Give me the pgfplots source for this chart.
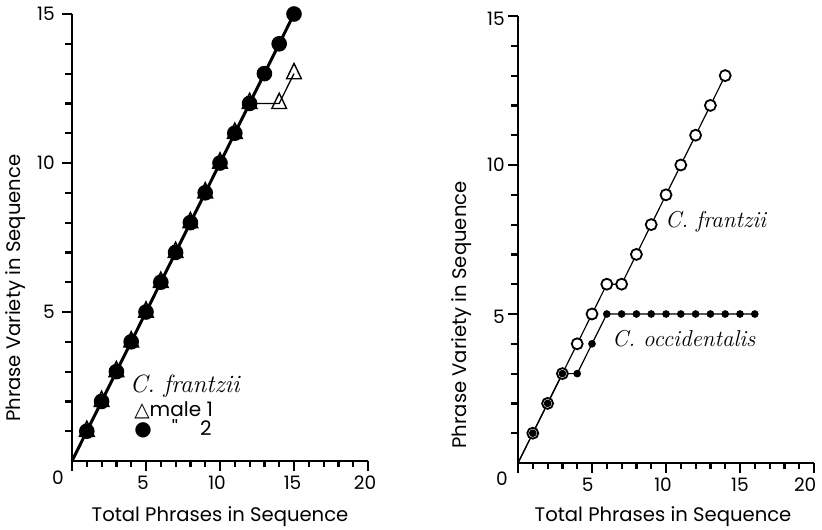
\documentclass[border=0pt]{standalone}
\usepackage{fontspec}
\usepackage{pgfplots}
\pgfplotsset{compat=1.18}
\newfontfamily\fut{Poppins}
\newfontfamily\dej{DejaVu Sans}

\pgfplotsset{
 base/.style={
  hide axis,
  scale only axis, width=312.28pt, height=467.86pt,
  xmin=-0.8, xmax=20.3, ymin=-0.5, ymax=15.2,
  clip=false,
 },
 frameline/.style={black, line width=2.8pt, line cap=butt, line join=miter, mark=none, forget plot},
 tickline/.style={black, line width=2.2pt, line cap=butt, mark=none, unbounded coords=jump, forget plot},
}
\tikzset{
 tl/.style={font=\fut\fontsize{18.5}{20}\selectfont, inner sep=0pt},
 al/.style={font=\fut\fontsize{19.6}{22}\selectfont, inner sep=0pt, anchor=center},
}

\begin{document}
\begin{tikzpicture}
\useasboundingbox (0,0) rectangle (822pt,-530pt);

% ---------- left panel ----------
\begin{axis}[base, at={(72pt,-461pt)}, anchor=origin]
\addplot[frameline] coordinates {(0,15)(0,0)(20,0)};
\addplot[tickline] coordinates {(1,0)(1,-0.2)(1,nan)(2,0)(2,-0.2)(2,nan)(3,0)(3,-0.2)(3,nan)(4,0)(4,-0.2)(4,nan)(6,0)(6,-0.2)(6,nan)(7,0)(7,-0.2)(7,nan)(8,0)(8,-0.2)(8,nan)(9,0)(9,-0.2)(9,nan)(11,0)(11,-0.2)(11,nan)(12,0)(12,-0.2)(12,nan)(13,0)(13,-0.2)(13,nan)(14,0)(14,-0.2)(14,nan)(16,0)(16,-0.2)(16,nan)(17,0)(17,-0.2)(17,nan)(18,0)(18,-0.2)(18,nan)(19,0)(19,-0.2)};
\addplot[tickline] coordinates {(0,0)(0,-0.34)(0,nan)(5,0)(5,-0.34)(5,nan)(10,0)(10,-0.34)(10,nan)(15,0)(15,-0.34)(15,nan)(20,0)(20,-0.34)};
\addplot[tickline] coordinates {(0,1)(-0.47,1)(nan,1)(0,2)(-0.47,2)(nan,2)(0,3)(-0.47,3)(nan,3)(0,4)(-0.47,4)(nan,4)(0,6)(-0.47,6)(nan,6)(0,7)(-0.47,7)(nan,7)(0,8)(-0.47,8)(nan,8)(0,9)(-0.47,9)(nan,9)(0,11)(-0.47,11)(nan,11)(0,12)(-0.47,12)(nan,12)(0,13)(-0.47,13)(nan,13)(0,14)(-0.47,14)};
\addplot[tickline] coordinates {(0,5)(-0.68,5)(nan,5)(0,10)(-0.68,10)(nan,10)(0,15)(-0.68,15)};
% data
\addplot[black, line width=1.3pt, mark=triangle, mark phase=2, mark repeat=1,
  mark size=8.5pt, mark options={fill=white, line width=1.4pt, yscale=1.2}]
  coordinates {(0,0)(1,1)(2,2)(3,3)(4,4)(5,5)(6,6)(7,7)(8,8)(9,9)(10,10)(11,11)(12,12)(14,12)(15,13)};
\addplot[black, line width=3pt, mark=*, mark phase=2, mark repeat=1,
  mark size=6.3pt]
  coordinates {(0,0)(1,1)(2,2)(3,3)(4,4)(5,5)(6,6)(7,7)(8,8)(9,9)(10,10)(11,11)(12,12)(13,13)(14,14)(15,15)};
% tick labels and axis labels
\node[tl, anchor=center] at (axis cs:-0.95,-0.57) {0};
\node[tl, anchor=center] at (axis cs:4.8,-0.74) {5};
\node[tl, anchor=center] at (axis cs:9.8,-0.74) {10};
\node[tl, anchor=center] at (axis cs:14.9,-0.74) {15};
\node[tl, anchor=center] at (axis cs:19.8,-0.74) {20};
\node[tl, anchor=east] at (axis cs:-1.15,5) {5};
\node[tl, anchor=east] at (axis cs:-1.15,10) {10};
\node[tl, anchor=east] at (axis cs:-1.15,15) {15};
\node[al] at (axis cs:10,-1.88) {Total Phrases in Sequence};
\node[al, rotate=90] at (axis cs:-3.78,5.8) {Phrase Variety in Sequence};
% annotations
\node[anchor=base west, font=\fontsize{25}{28}\selectfont\itshape, inner sep=0pt] at (axis cs:3.9,2.3) {C. frantzii};
\node[anchor=base west, font=\fut\fontsize{20}{22}\selectfont, inner sep=0pt] at (axis cs:4.2,1.48) {{\dej\bfseries △}male 1};
\node[anchor=base west, font=\fut\fontsize{20}{22}\selectfont, inner sep=0pt] at (axis cs:4.2,0.87) {{\dej ●}\hspace{20pt}''\hspace{22pt}2};
\end{axis}

% ---------- right panel ----------
\begin{axis}[base, at={(518pt,-463pt)}, anchor=origin]
\addplot[frameline] coordinates {(0,15)(0,0)(20,0)};
\addplot[tickline] coordinates {(1,0)(1,-0.2)(1,nan)(2,0)(2,-0.2)(2,nan)(3,0)(3,-0.2)(3,nan)(4,0)(4,-0.2)(4,nan)(6,0)(6,-0.2)(6,nan)(7,0)(7,-0.2)(7,nan)(8,0)(8,-0.2)(8,nan)(9,0)(9,-0.2)(9,nan)(11,0)(11,-0.2)(11,nan)(12,0)(12,-0.2)(12,nan)(13,0)(13,-0.2)(13,nan)(14,0)(14,-0.2)(14,nan)(16,0)(16,-0.2)(16,nan)(17,0)(17,-0.2)(17,nan)(18,0)(18,-0.2)(18,nan)(19,0)(19,-0.2)};
\addplot[tickline] coordinates {(0,0)(0,-0.34)(0,nan)(5,0)(5,-0.34)(5,nan)(10,0)(10,-0.34)(10,nan)(15,0)(15,-0.34)(15,nan)(20,0)(20,-0.34)};
\addplot[tickline] coordinates {(0,1)(-0.47,1)(nan,1)(0,2)(-0.47,2)(nan,2)(0,3)(-0.47,3)(nan,3)(0,4)(-0.47,4)(nan,4)(0,6)(-0.47,6)(nan,6)(0,7)(-0.47,7)(nan,7)(0,8)(-0.47,8)(nan,8)(0,9)(-0.47,9)(nan,9)(0,11)(-0.47,11)(nan,11)(0,12)(-0.47,12)(nan,12)(0,13)(-0.47,13)(nan,13)(0,14)(-0.47,14)};
\addplot[tickline] coordinates {(0,5)(-0.68,5)(nan,5)(0,10)(-0.68,10)(nan,10)(0,15)(-0.68,15)};
% data
\addplot[black, line width=1.2pt, mark=*, mark phase=2, mark repeat=1,
  mark size=5.5pt, mark options={fill=white, line width=1.8pt}]
  coordinates {(0,0)(1,1)(2,2)(3,3)(4,4)(5,5)(6,6)(7,6)(8,7)(9,8)(10,9)(11,10)(12,11)(13,12)(14,13)};
\addplot[black, line width=1.2pt, mark=*, mark phase=2, mark repeat=1,
  mark size=3.2pt]
  coordinates {(0,0)(1,1)(2,2)(3,3)(4,3)(5,4)(6,5)(7,5)(8,5)(9,5)(10,5)(11,5)(12,5)(13,5)(14,5)(15,5)(16,5)};
% tick labels and axis labels
\node[tl, anchor=center] at (axis cs:-1.08,-0.54) {0};
\node[tl, anchor=center] at (axis cs:4.7,-0.74) {5};
\node[tl, anchor=center] at (axis cs:9.8,-0.74) {10};
\node[tl, anchor=center] at (axis cs:15,-0.74) {15};
\node[tl, anchor=center] at (axis cs:19.4,-0.74) {20};
\node[tl, anchor=east] at (axis cs:-0.88,4.9) {5};
\node[tl, anchor=east] at (axis cs:-0.88,10) {10};
\node[tl, anchor=east] at (axis cs:-0.88,14.9) {15};
\node[al] at (axis cs:9.8,-1.81) {Total Phrases in Sequence};
\node[al, rotate=90] at (axis cs:-3.78,4.97) {Phrase Variety in Sequence};
% annotations
\node[anchor=base west, font=\fontsize{23}{26}\selectfont\itshape, inner sep=0pt] at (axis cs:9.93,7.89) {C. frantzii};
\node[anchor=base west, font=\fontsize{23}{26}\selectfont\itshape, inner sep=0pt] at (axis cs:6.35,3.9) {C. occidentalis};
\end{axis}
\end{tikzpicture}
\end{document}
